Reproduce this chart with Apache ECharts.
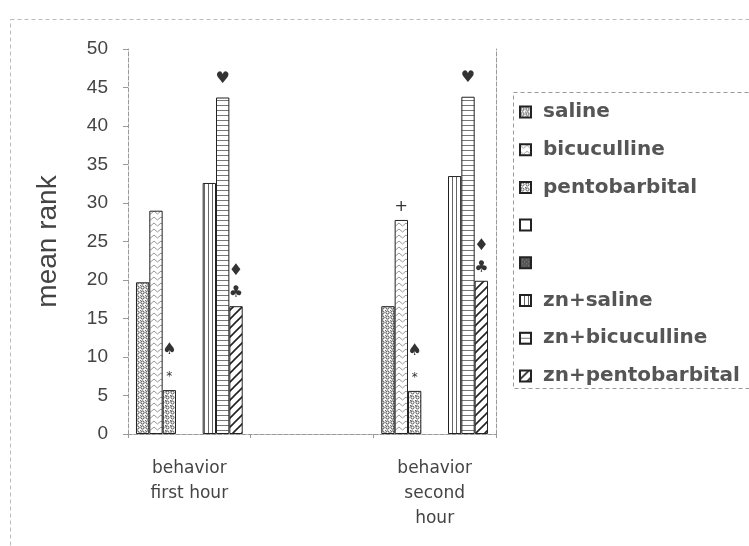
<!DOCTYPE html>
<html>
<head>
<meta charset="utf-8">
<script src="https://cdn.jsdelivr.net/npm/echarts@6/dist/echarts.min.js"></script>
<style>
html,body{margin:0;padding:0;background:#fff;}
#chart{width:749px;height:546px;}
</style>
</head>
<body>
<div id="chart"></div>
<script>
// ---- data ----
var categories = ['behavior\nfirst hour', '', 'behavior\nsecond\nhour'];
var seriesNames = ['saline', 'bicuculline', 'pentobarbital', ' ', '  ', 'zn+saline', 'zn+bicuculline', 'zn+pentobarbital'];
var saline = [19.7, null, 16.6];
var bicuculline = [29.0, null, 27.8];
var pentobarbital = [5.7, null, 5.6];
var blankA = [null, null, null];
var blankB = [null, null, null];
var znSaline = [32.6, null, 33.5];
var znBicuculline = [43.7, null, 43.8];
var znPentobarbital = [16.6, null, 19.9];
var yTicks = [0, 5, 10, 15, 20, 25, 30, 35, 40, 45, 50];
// significance marks above bars
var bicucullineMarks = ['', '', '+'];
var pentobarbitalMarks = ['♠\n*', '', '♠\n*'];
var znBicucullineMarks = ['♥', '', '♥'];
var znPentobarbitalMarks = ['♦\n♣', '', '♦\n♣'];
var noMarks = ['', '', ''];

// ---- patterns ----
function tile(w, h, draw) {
  var c = document.createElement('canvas');
  c.width = w; c.height = h;
  var g = c.getContext('2d');
  g.fillStyle = '#fff'; g.fillRect(0, 0, w, h);
  draw(g);
  return {image: c, repeat: 'repeat'};
}
var patSaline = tile(5, 5, function (g) {
  g.strokeStyle = '#444'; g.lineWidth = 1;
  g.beginPath(); g.arc(2.5, 2.5, 1.6, 0, Math.PI * 2); g.stroke();
  g.fillStyle = '#777';
  g.fillRect(0, 0, 1, 1);
});
var patBic = tile(7, 6, function (g) {
  g.strokeStyle = '#999'; g.lineWidth = 1;
  g.beginPath(); g.moveTo(0, 1); g.lineTo(3.5, 4); g.lineTo(7, 1); g.stroke();
});
var patPento = tile(5, 5, function (g) {
  g.strokeStyle = '#555'; g.lineWidth = 1;
  g.beginPath(); g.arc(2.5, 2.5, 1.5, 0, Math.PI * 2); g.stroke();
  g.fillStyle = '#666';
  g.fillRect(0, 0, 1.5, 1.5);
});
var patBlank = tile(4, 4, function (g) {});
var patDark = tile(4, 4, function (g) {
  g.fillStyle = '#555'; g.fillRect(0, 0, 4, 4);
  g.fillStyle = '#888'; g.fillRect(0, 0, 1, 1); g.fillRect(2, 2, 1, 1);
});
var patVert = tile(4, 4, function (g) {
  g.fillStyle = '#666'; g.fillRect(0, 0, 1, 4);
});
var patHorz = tile(4, 5, function (g) {
  g.fillStyle = '#777'; g.fillRect(0, 0, 4, 1);
});
var patDiag = tile(9, 9, function (g) {
  g.strokeStyle = '#222'; g.lineWidth = 1.6;
  g.beginPath();
  g.moveTo(-1, 10); g.lineTo(10, -1);
  g.moveTo(-1, 1); g.lineTo(1, -1);
  g.moveTo(8, 10); g.lineTo(10, 8);
  g.stroke();
});

function markFormatter(marks) {
  return function (p) {
    var m = marks[p.dataIndex];
    if (!m) return '';
    return m.split('\n').map(function (ch) {
      return ch === '*' ? '{star|*}' : '{sym|' + ch + '}';
    }).join('\n');
  };
}

var dataSets = [saline, bicuculline, pentobarbital, blankA, blankB, znSaline, znBicuculline, znPentobarbital];
var pats = [patSaline, patBic, patPento, patBlank, patDark, patVert, patHorz, patDiag];
var marksList = [noMarks, bicucullineMarks, pentobarbitalMarks, noMarks, noMarks, noMarks, znBicucullineMarks, znPentobarbitalMarks];
var symLH = [22, 22, 38, 22, 22, 22, 22, 22];
var labelDist = [2, 2, 5, 2, 2, 2, 8, 2];

var series = dataSets.map(function (d, i) {
  return {
    name: seriesNames[i],
    type: 'bar',
    data: d,
    barGap: '0%',
    barCategoryGap: '13%',
    itemStyle: {color: pats[i], borderColor: '#222', borderWidth: 1},
    label: {
      show: true,
      position: 'top',
      distance: labelDist[i],
      formatter: markFormatter(marksList[i]),
      rich: {
        sym: {fontSize: 16, lineHeight: symLH[i], color: '#333', fontFamily: 'DejaVu Sans'},
        star: {fontSize: 12, lineHeight: 16, color: '#333', fontFamily: 'DejaVu Sans'}
      }
    },
    emphasis: {disabled: true}
  };
});

var dashed = {color: '#999', type: 'dashed', width: 1};

var chart = echarts.init(document.getElementById('chart'));
chart.setOption({
  animation: false,
  backgroundColor: '#fff',
  grid: {left: 128, right: 253, top: 49, bottom: 112},
  legend: {
    orient: 'vertical',
    left: 519,
    top: 101,
    padding: 0,
    itemGap: 15.7,
    itemWidth: 11,
    itemHeight: 11,
    icon: 'rect',
    data: seriesNames,
    textStyle: {fontSize: 20, lineHeight: 22, color: '#555', fontWeight: 'bold', fontFamily: 'DejaVu Sans', padding: [0, 0, 0, 7]}
  },
  xAxis: [{
    type: 'category',
    data: categories,
    axisLine: {lineStyle: dashed},
    axisTick: {show: true, length: 4, lineStyle: {color: '#999'}},
    axisLabel: {
      margin: 22,
      fontSize: 17,
      lineHeight: 25,
      color: '#444',
      fontFamily: 'DejaVu Sans',
      interval: 0
    }
  }, {
    type: 'category',
    position: 'top',
    data: categories,
    axisLine: {lineStyle: dashed},
    axisTick: {show: false},
    axisLabel: {show: false}
  }],
  yAxis: [{
    type: 'value',
    min: 0, max: 50, interval: 5,
    name: 'mean rank',
    nameLocation: 'middle',
    nameGap: 66,
    nameTextStyle: {fontSize: 28, color: '#444', fontFamily: 'Liberation Sans'},
    axisLine: {show: true, lineStyle: dashed},
    axisTick: {show: true, length: 5, lineStyle: {color: '#999'}},
    splitLine: {show: false},
    axisLabel: {
      margin: 20,
      fontSize: 19,
      color: '#444',
      fontFamily: 'Liberation Sans',
      formatter: function (v) { return yTicks.indexOf(v) >= 0 ? String(v) : ''; }
    }
  }, {
    type: 'value',
    position: 'right',
    min: 0, max: 50, interval: 5,
    axisLine: {show: true, lineStyle: dashed},
    axisTick: {show: false},
    axisLabel: {show: false},
    splitLine: {show: false}
  }],
  graphic: [
    {type: 'rect', shape: {x: 10.5, y: 19.5, width: 760, height: 560}, style: {fill: null, stroke: '#bbb', lineDash: [4, 3], lineWidth: 1}, silent: true},
    {type: 'rect', shape: {x: 513.5, y: 92.5, width: 250, height: 296}, style: {fill: null, stroke: '#999', lineDash: [4, 3], lineWidth: 1}, silent: true}
  ],
  series: series
});
</script>
</body>
</html>
